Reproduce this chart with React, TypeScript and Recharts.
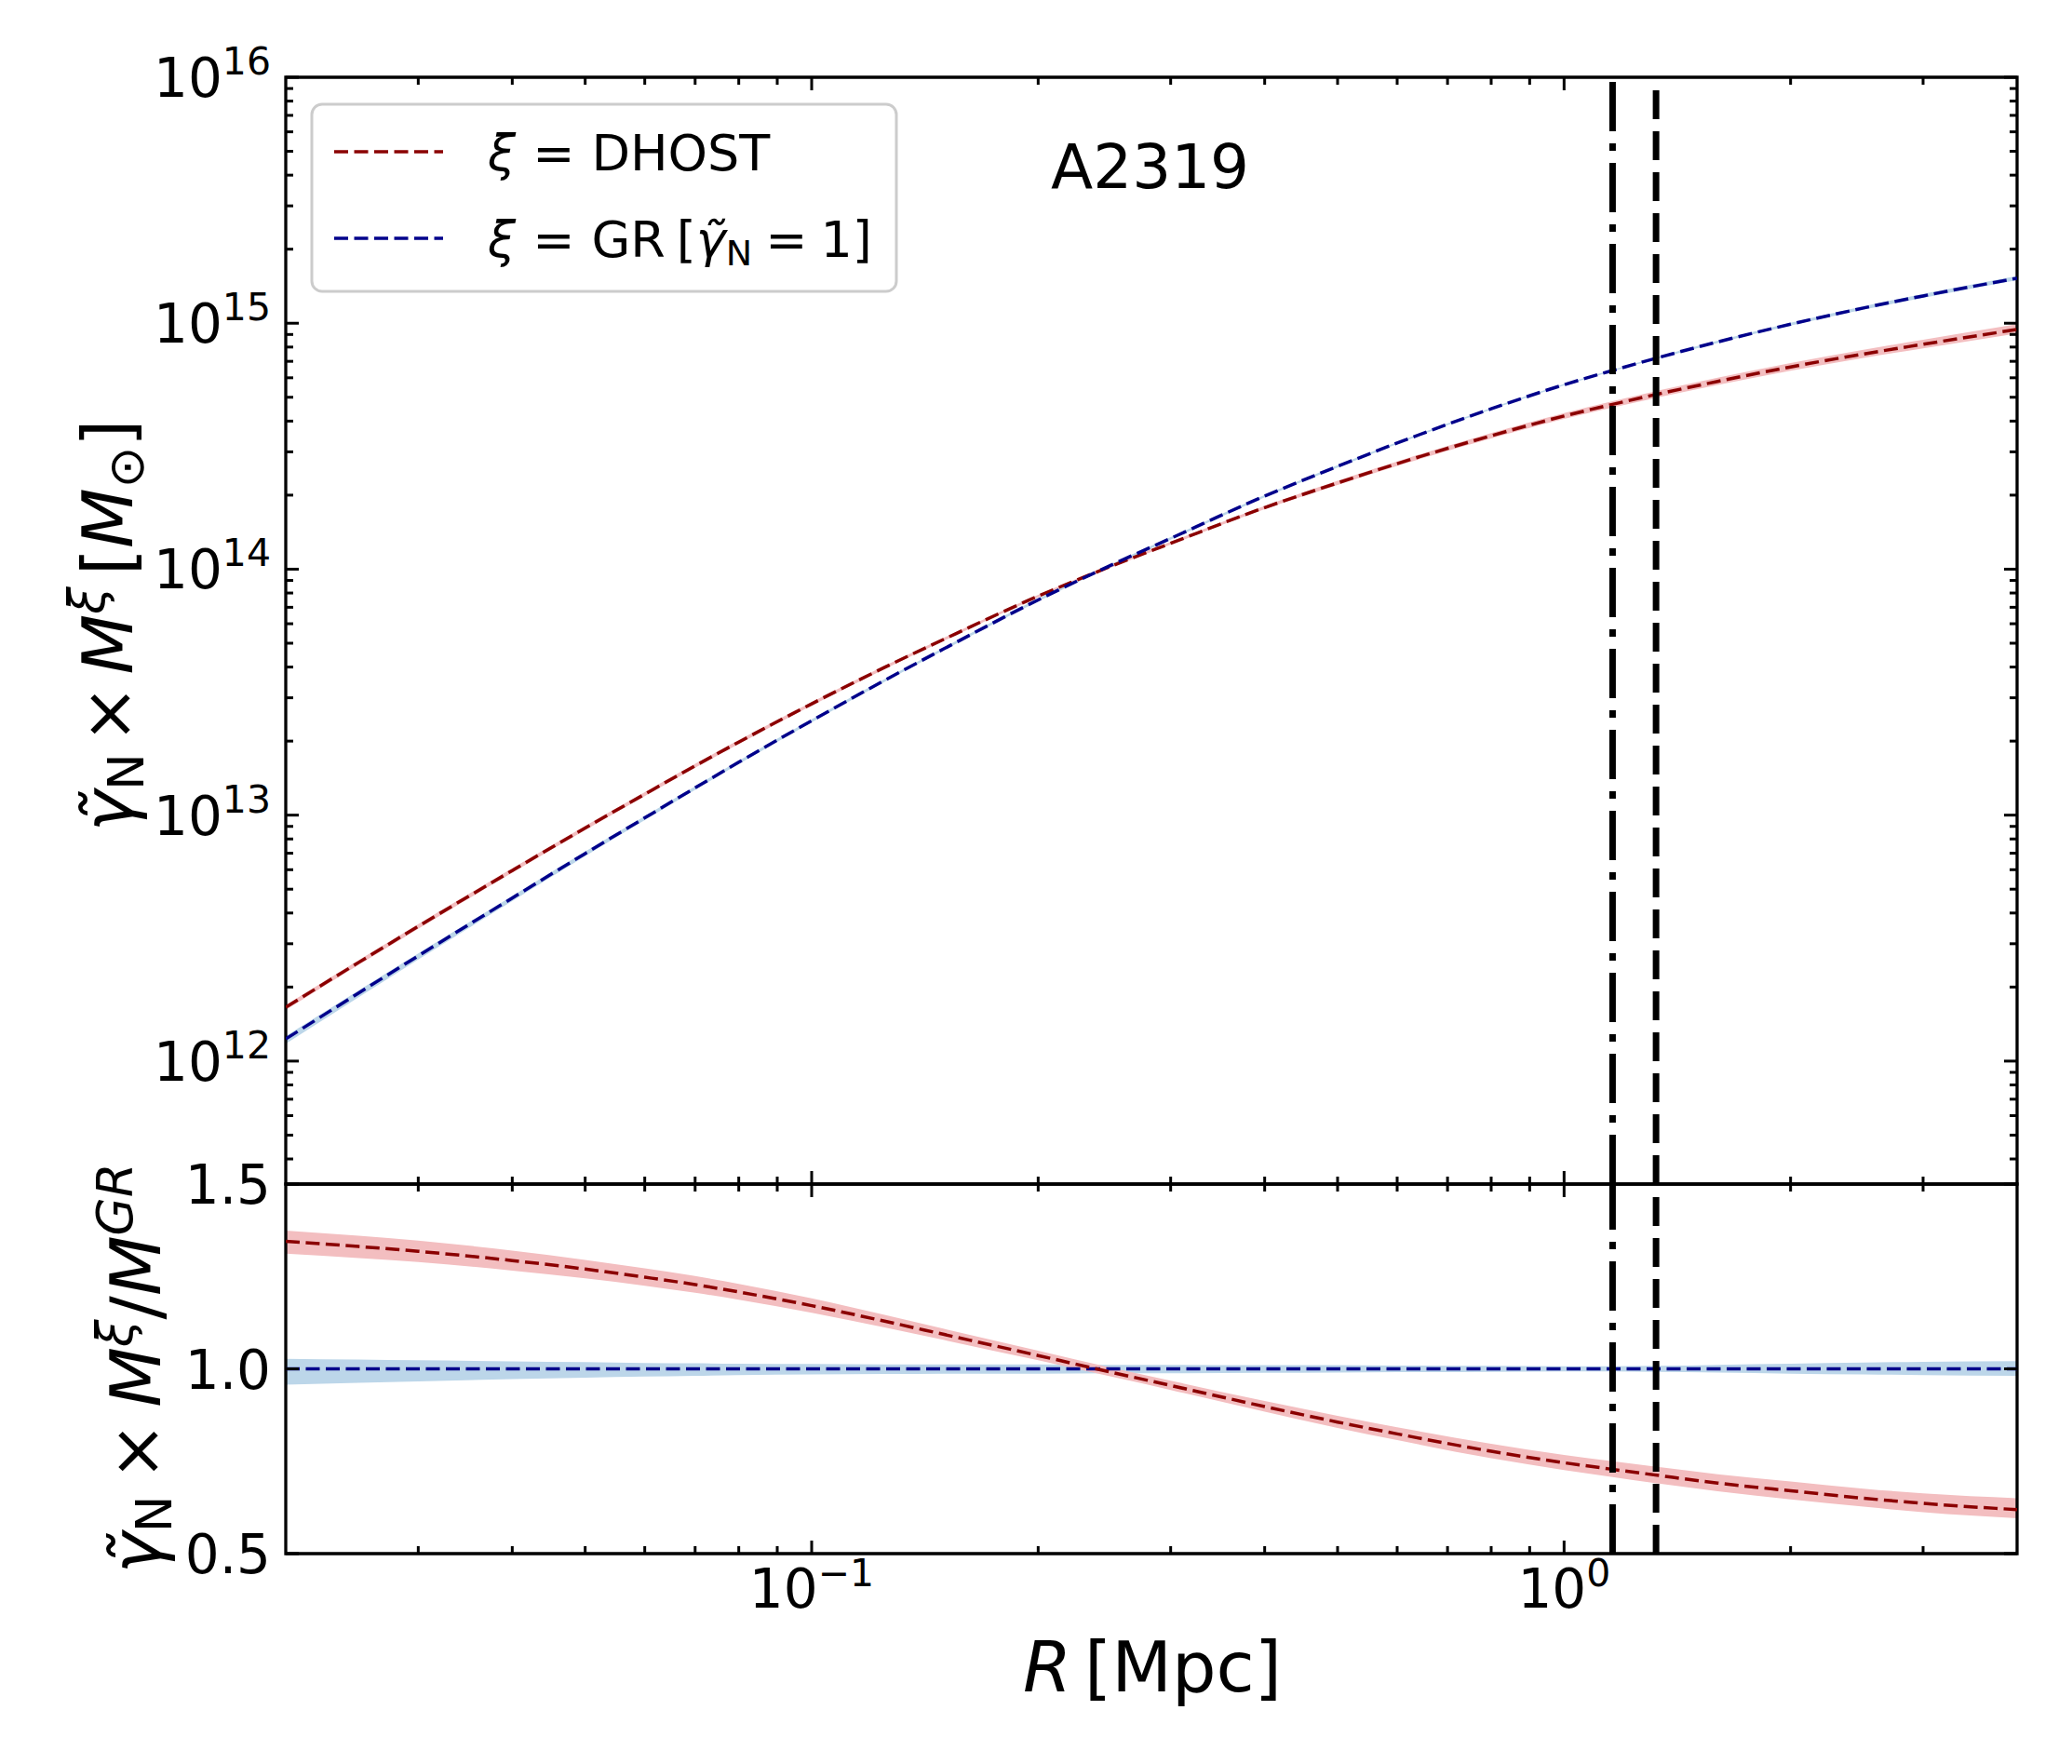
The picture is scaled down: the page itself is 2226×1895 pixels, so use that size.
import React from 'react';
import { ComposedChart, Line, Area, XAxis, YAxis, ReferenceLine, ReferenceArea } from 'recharts';

// ---------------- data ----------------
const R_MPC = [0.02, 0.025, 0.03, 0.04, 0.05, 0.06, 0.07, 0.08, 0.1, 0.125, 0.15, 0.2, 0.25, 0.3, 0.4, 0.5, 0.6, 0.8, 1.0, 1.16, 1.33, 1.6, 2.0, 2.5, 3.0, 4.0];

const MASS_DHOST = [1.655e12, 2.519e12, 3.531e12, 5.953e12, 8.867e12, 1.217e13, 1.586e13, 1.982e13, 2.835e13, 3.988e13, 5.195e13, 7.77e13, 1.028e14, 1.274e14, 1.78e14, 2.242e14, 2.685e14, 3.487e14, 4.195e14, 4.679e14, 5.146e14, 5.801e14, 6.639e14, 7.497e14, 8.211e14, 9.434e14];
const MASS_GR = [1.23e12, 1.892e12, 2.679e12, 4.603e12, 6.982e12, 9.75e12, 1.291e13, 1.641e13, 2.421e13, 3.532e13, 4.753e13, 7.499e13, 1.038e14, 1.334e14, 1.982e14, 2.618e14, 3.258e14, 4.487e14, 5.623e14, 6.427e14, 7.228e14, 8.395e14, 9.908e14, 1.153e15, 1.291e15, 1.524e15];

const RATIO_DHOST = [1.345, 1.331, 1.318, 1.293, 1.27, 1.248, 1.228, 1.208, 1.171, 1.129, 1.093, 1.036, 0.991, 0.955, 0.898, 0.856, 0.824, 0.777, 0.746, 0.728, 0.712, 0.691, 0.67, 0.65, 0.636, 0.619];
const RATIO_DHOST_LOW = [1.312, 1.3, 1.289, 1.266, 1.245, 1.225, 1.206, 1.187, 1.152, 1.112, 1.078, 1.023, 0.979, 0.943, 0.884, 0.84, 0.807, 0.758, 0.726, 0.707, 0.69, 0.669, 0.647, 0.627, 0.612, 0.596];
const RATIO_DHOST_HIGH = [1.374, 1.36, 1.347, 1.32, 1.295, 1.272, 1.251, 1.23, 1.191, 1.146, 1.108, 1.049, 1.003, 0.968, 0.913, 0.873, 0.842, 0.797, 0.767, 0.75, 0.735, 0.715, 0.695, 0.676, 0.663, 0.65];

const RATIO_GR = [1, 1, 1, 1, 1, 1, 1, 1, 1, 1, 1, 1, 1, 1, 1, 1, 1, 1, 1, 1, 1, 1, 1, 1, 1, 1];
const RATIO_GR_LOW = [0.957, 0.962, 0.966, 0.972, 0.976, 0.979, 0.981, 0.983, 0.985, 0.986, 0.987, 0.987, 0.988, 0.988, 0.989, 0.99, 0.991, 0.992, 0.993, 0.993, 0.992, 0.99, 0.987, 0.985, 0.983, 0.981];
const RATIO_GR_HIGH = [1.027, 1.025, 1.023, 1.02, 1.018, 1.016, 1.015, 1.014, 1.013, 1.012, 1.012, 1.012, 1.011, 1.011, 1.01, 1.01, 1.009, 1.008, 1.007, 1.007, 1.008, 1.011, 1.014, 1.017, 1.019, 1.021];

const R_DASHDOT = 1.16;
const R_DASHED = 1.325;

// axes
const X_DOMAIN = [0.02, 4];
const X_MAJOR_TICKS = [0.1, 1];
const X_TICK_LABELS = [
  { base: '10', exp: '\u22121' },
  { base: '10', exp: '0' },
];
const X_MINOR_TICKS = [0.03, 0.04, 0.05, 0.06, 0.07, 0.08, 0.09, 0.2, 0.3, 0.4, 0.5, 0.6, 0.7, 0.8, 0.9, 2, 3];

const Y_TOP_DOMAIN = [3.1623e11, 1e16];
const Y_TOP_MAJOR = [1e12, 1e13, 1e14, 1e15, 1e16];
const Y_TOP_LABELS = ['12', '13', '14', '15', '16'];
const Y_TOP_MINOR = [
  4e11, 5e11, 6e11, 7e11, 8e11, 9e11,
  2e12, 3e12, 4e12, 5e12, 6e12, 7e12, 8e12, 9e12,
  2e13, 3e13, 4e13, 5e13, 6e13, 7e13, 8e13, 9e13,
  2e14, 3e14, 4e14, 5e14, 6e14, 7e14, 8e14, 9e14,
  2e15, 3e15, 4e15, 5e15, 6e15, 7e15, 8e15, 9e15,
];

const Y_BOT_DOMAIN = [0.5, 1.5];
const Y_BOT_TICKS = [0.5, 1.0, 1.5];
const Y_BOT_LABELS = ['0.5', '1.0', '1.5'];

// ---------------- style / layout ----------------
const W = 2226;
const H = 1895;
const FONT = "'DejaVu Sans', 'Noto Sans', sans-serif";
const RED = '#8b0000';
const BLUE = '#00008b';
const RED_BAND = '#f3bec0';
const BLUE_BAND = '#bcd6e9';
const TOP_PANEL = { left: 307, right: 2167, top: 83, bottom: 1272 };
const BOT_PANEL = { left: 307, right: 2167, top: 1272, bottom: 1669 };
const MAJOR_LEN = 14;
const MINOR_LEN = 8;
const TICK_W = 3;
const SPINE_W = 3.3;
const CURVE_DASH = '15 6.5';

const rows = R_MPC.map((r, i) => ({
  r,
  dhost: MASS_DHOST[i],
  gr: MASS_GR[i],
  dhostBand: [
    (MASS_DHOST[i] * RATIO_DHOST_LOW[i]) / RATIO_DHOST[i],
    (MASS_DHOST[i] * RATIO_DHOST_HIGH[i]) / RATIO_DHOST[i],
  ],
  grBand: [MASS_GR[i] * RATIO_GR_LOW[i], MASS_GR[i] * RATIO_GR_HIGH[i]],
  ratioDhost: RATIO_DHOST[i],
  ratioGr: RATIO_GR[i],
  ratioDhostBand: [RATIO_DHOST_LOW[i], RATIO_DHOST_HIGH[i]],
  ratioGrBand: [RATIO_GR_LOW[i], RATIO_GR_HIGH[i]],
}));

const X_TICKS = [...X_MAJOR_TICKS, ...X_MINOR_TICKS];
const Y_TOP_TICKS = [...Y_TOP_MAJOR, ...Y_TOP_MINOR];

function makeXTick(panel: any, withLabels: boolean) {
  return (props: any) => {
    const x = props.payload && typeof props.payload.coordinate === 'number' ? props.payload.coordinate : props.x;
    const v = props.payload ? props.payload.value : undefined;
    const idx = X_MAJOR_TICKS.indexOf(v);
    const len = idx >= 0 ? MAJOR_LEN : MINOR_LEN;
    return (
      <g>
        <line x1={x} x2={x} y1={panel.bottom} y2={panel.bottom - len} stroke="#000" strokeWidth={TICK_W} />
        <line x1={x} x2={x} y1={panel.top} y2={panel.top + len} stroke="#000" strokeWidth={TICK_W} />
        {withLabels && idx >= 0 ? (
          <text x={x} y={panel.bottom + 58} textAnchor="middle" fontSize={58} fontFamily={FONT} fill="#000">
            {X_TICK_LABELS[idx].base}
            <tspan dy={-23} fontSize={41}>
              {X_TICK_LABELS[idx].exp}
            </tspan>
          </text>
        ) : null}
      </g>
    );
  };
}

function makeYTick(panel: any, majors: number[], render: (i: number) => React.ReactNode) {
  return (props: any) => {
    const y = props.payload && typeof props.payload.coordinate === 'number' ? props.payload.coordinate : props.y;
    const v = props.payload ? props.payload.value : undefined;
    const idx = majors.indexOf(v);
    const len = idx >= 0 ? MAJOR_LEN : MINOR_LEN;
    return (
      <g>
        <line x1={panel.left} x2={panel.left + len} y1={y} y2={y} stroke="#000" strokeWidth={TICK_W} />
        <line x1={panel.right} x2={panel.right - len} y1={y} y2={y} stroke="#000" strokeWidth={TICK_W} />
        {idx >= 0 ? (
          <text x={panel.left - 16} y={y + 21} textAnchor="end" fontSize={58} fontFamily={FONT} fill="#000">
            {render(idx)}
          </text>
        ) : null}
      </g>
    );
  };
}

const topYTick = makeYTick(TOP_PANEL, Y_TOP_MAJOR, (i) => (
  <>
    10
    <tspan dy={-24} fontSize={41}>
      {Y_TOP_LABELS[i]}
    </tspan>
  </>
));
const botYTick = makeYTick(BOT_PANEL, Y_BOT_TICKS, (i) => <>{Y_BOT_LABELS[i]}</>);

export default function App() {
  return (
    <div style={{ position: 'absolute', left: 0, top: 0, width: W, height: H, background: '#fff', overflow: 'hidden' }}>
      {/* top panel */}
      <div style={{ position: 'absolute', left: 0, top: 0 }}>
        <ComposedChart
          width={W}
          height={H}
          data={rows}
          margin={{ top: TOP_PANEL.top, bottom: H - TOP_PANEL.bottom - 1, left: TOP_PANEL.left - 1, right: W - TOP_PANEL.right }}
        >
          <XAxis
            dataKey="r"
            type="number"
            scale="log"
            domain={X_DOMAIN}
            allowDataOverflow
            ticks={X_TICKS}
            interval={0}
            height={1}
            axisLine={false}
            tickLine={false}
            tick={makeXTick(TOP_PANEL, false)}
          />
          <YAxis
            type="number"
            scale="log"
            domain={Y_TOP_DOMAIN}
            allowDataOverflow
            ticks={Y_TOP_TICKS}
            interval={0}
            width={1}
            axisLine={false}
            tickLine={false}
            tick={topYTick}
          />
          <Area dataKey="grBand" type="monotone" fill={BLUE_BAND} fillOpacity={1} stroke="none" isAnimationActive={false} />
          <Area dataKey="dhostBand" type="monotone" fill={RED_BAND} fillOpacity={1} stroke="none" isAnimationActive={false} />
          <Line dataKey="dhost" type="monotone" stroke={RED} strokeWidth={3.5} strokeDasharray={CURVE_DASH} dot={false} activeDot={false} isAnimationActive={false} />
          <Line dataKey="gr" type="monotone" stroke={BLUE} strokeWidth={3.5} strokeDasharray={CURVE_DASH} dot={false} activeDot={false} isAnimationActive={false} />
          <ReferenceLine x={R_DASHDOT} stroke="#000" strokeWidth={7} strokeDasharray="53 13 8 13" />
          <ReferenceLine x={R_DASHED} stroke="#000" strokeWidth={7} strokeDasharray="31 13" />
          <ReferenceArea x1={X_DOMAIN[0]} x2={X_DOMAIN[1]} y1={Y_TOP_DOMAIN[0]} y2={Y_TOP_DOMAIN[1]} fill="none" fillOpacity={0} stroke="#000" strokeWidth={SPINE_W} />
        </ComposedChart>
      </div>

      {/* bottom panel */}
      <div style={{ position: 'absolute', left: 0, top: 0 }}>
        <ComposedChart
          width={W}
          height={H}
          data={rows}
          margin={{ top: BOT_PANEL.top, bottom: H - BOT_PANEL.bottom - 1, left: BOT_PANEL.left - 1, right: W - BOT_PANEL.right }}
        >
          <XAxis
            dataKey="r"
            type="number"
            scale="log"
            domain={X_DOMAIN}
            allowDataOverflow
            ticks={X_TICKS}
            interval={0}
            height={1}
            axisLine={false}
            tickLine={false}
            tick={makeXTick(BOT_PANEL, true)}
          />
          <YAxis
            type="number"
            domain={Y_BOT_DOMAIN}
            allowDataOverflow
            ticks={Y_BOT_TICKS}
            interval={0}
            width={1}
            axisLine={false}
            tickLine={false}
            tick={botYTick}
          />
          <Area dataKey="ratioGrBand" type="monotone" fill={BLUE_BAND} fillOpacity={1} stroke="none" isAnimationActive={false} />
          <Area dataKey="ratioDhostBand" type="monotone" fill={RED_BAND} fillOpacity={1} stroke="none" isAnimationActive={false} />
          <Line dataKey="ratioGr" type="monotone" stroke={BLUE} strokeWidth={3.5} strokeDasharray={CURVE_DASH} dot={false} activeDot={false} isAnimationActive={false} />
          <Line dataKey="ratioDhost" type="monotone" stroke={RED} strokeWidth={3.5} strokeDasharray={CURVE_DASH} dot={false} activeDot={false} isAnimationActive={false} />
          <ReferenceLine x={R_DASHDOT} stroke="#000" strokeWidth={7} strokeDasharray="53 13 8 13" />
          <ReferenceLine x={R_DASHED} stroke="#000" strokeWidth={7} strokeDasharray="31 13" />
          <ReferenceArea x1={X_DOMAIN[0]} x2={X_DOMAIN[1]} y1={Y_BOT_DOMAIN[0]} y2={Y_BOT_DOMAIN[1]} fill="none" fillOpacity={0} stroke="#000" strokeWidth={SPINE_W} />
        </ComposedChart>
      </div>

      {/* text overlay: legend, title, axis labels */}
      <svg width={W} height={H} style={{ position: 'absolute', left: 0, top: 0, pointerEvents: 'none' }} fontFamily={FONT}>
        {/* legend */}
        <rect x={335} y={112} width={628} height={201} rx={11} ry={11} fill="#fff" fillOpacity={0.8} stroke="#cccccc" strokeWidth={3} />
        <line x1={359} x2={476} y1={163} y2={163} stroke={RED} strokeWidth={3.5} strokeDasharray={CURVE_DASH} />
        <line x1={359} x2={476} y1={256} y2={256} stroke={BLUE} strokeWidth={3.5} strokeDasharray={CURVE_DASH} />
        <text x={524} y={183} fontSize={54} fill="#000">
          <tspan fontStyle="italic">ξ</tspan>
          <tspan dx={18}>=</tspan>
          <tspan dx={18}>DHOST</tspan>
        </text>
        <text x={524} y={276} fontSize={54} fill="#000">
          <tspan fontStyle="italic">ξ</tspan>
          <tspan dx={18}>=</tspan>
          <tspan dx={18}>GR</tspan>
          <tspan dx={12}>[</tspan>
          <tspan fontStyle="italic">γ̃</tspan>
          <tspan fontSize={38} dy={9}>N</tspan>
          <tspan dy={-9} dx={14}>=</tspan>
          <tspan dx={14}>1]</tspan>
        </text>

        {/* title */}
        <text x={1129} y={202} fontSize={66} fill="#000">A2319</text>

        {/* x label */}
        <text x={1238} y={1817} fontSize={75} textAnchor="middle" fill="#000">
          <tspan fontStyle="italic">R</tspan>
          <tspan dx={14}>[Mpc]</tspan>
        </text>

        {/* y label top */}
        <text transform="translate(142, 672) rotate(-90)" fontSize={75} textAnchor="middle" fill="#000">
          <tspan fontStyle="italic">γ̃</tspan>
          <tspan fontSize={53} dy={12}>N</tspan>
          <tspan dy={-12} dx={11}>×</tspan>
          <tspan dx={11} fontStyle="italic">M</tspan>
          <tspan fontSize={53} dy={-30} fontStyle="italic">ξ</tspan>
          <tspan dy={30} dx={12}>[</tspan>
          <tspan fontStyle="italic">M</tspan>
          <tspan fontSize={53} dy={12}>⊙</tspan>
          <tspan dy={-12}>]</tspan>
        </text>

        {/* y label bottom */}
        <text transform="translate(172, 1470) rotate(-90)" fontSize={75} textAnchor="middle" fill="#000">
          <tspan fontStyle="italic">γ̃</tspan>
          <tspan fontSize={53} dy={12}>N</tspan>
          <tspan dy={-12} dx={16}>×</tspan>
          <tspan dx={16} fontStyle="italic">M</tspan>
          <tspan fontSize={53} dy={-30} fontStyle="italic">ξ</tspan>
          <tspan dy={30}>/</tspan>
          <tspan fontStyle="italic">M</tspan>
          <tspan fontSize={53} dy={-30} fontStyle="italic">GR</tspan>
        </text>
      </svg>
    </div>
  );
}
